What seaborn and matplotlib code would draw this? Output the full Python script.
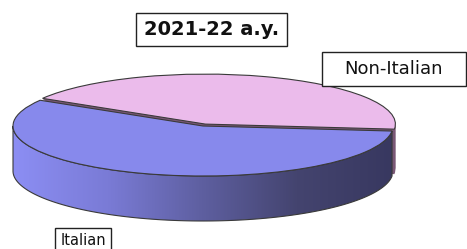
import numpy as np
import matplotlib
matplotlib.use("Agg")
import matplotlib.pyplot as plt
import seaborn as sns
from matplotlib.patches import Rectangle, Polygon
from matplotlib.colors import LinearSegmentedColormap

sns.set_theme(style="white")
plt.rcParams['font.family'] = ['DejaVu Sans']

# ---- data ----
categories = ["Italian", "Non-Italian"]
shares = [57, 43]
title_text = "2021-22 a.y."

W, H = 467, 249
fig = plt.figure(figsize=(W / 100, H / 100), dpi=100)
ax = fig.add_axes([0, 0, 1, 1])

# pixel geometry of the pie ellipse
cx, cy = 203, 126          # centre (pixels from top-left)
rx, ry = 190, 50           # semi-axes in pixels
depth = 45 / ry            # side height in y-units
start = 149
explode = [0, 0.04]

top_colors = ["#8789ec", "#ebbbeb"]
edge = "#3a3a3a"
mauve = "#7a5876"

# pink slice body (extrusion) - stacked layers
N = 30
for k in range(N, 0, -1):
    ax.pie(shares, startangle=start, explode=explode, center=(0, -depth * k / N),
           colors=["none", mauve], wedgeprops=dict(linewidth=0, zorder=1))

# Italian side with horizontal gradient
tot = sum(shares)
a1 = start + 360 * shares[0] / tot
t = np.radians(np.linspace(180, a1, 200))
xs_top = np.cos(t)
ys_top = np.sin(t)
verts = np.concatenate([np.c_[xs_top, ys_top], np.c_[xs_top[::-1], ys_top[::-1] - depth]])
side = Polygon(verts, closed=True, facecolor="none", edgecolor=edge, lw=0.8, zorder=4)
ax.add_patch(side)
cmap = LinearSegmentedColormap.from_list(
    "side", sns.blend_palette(["#8c8ef4", "#7a7bd6", "#5e5fa0", "#44446f", "#383860"], 5))
grad = np.linspace(0, 1, 256)[None, :]
im = ax.imshow(grad, extent=(-1, 1, -1 - depth, 0.2), aspect="auto", cmap=cmap,
               origin="lower", zorder=3)
im.set_clip_path(side)

# top surfaces
ax.pie(shares, startangle=start, explode=explode, colors=top_colors,
       wedgeprops=dict(edgecolor=edge, linewidth=0.8, zorder=5))

ax.set_aspect("auto")
ax.set_xlim(-cx / rx, (W - cx) / rx)
ax.set_ylim(-(H - cy) / ry, cy / ry)
ax.axis("off")


def box(x0, y0, x1, y1, text, bold=False, size=10):
    fig.patches.append(Rectangle((x0 / W, 1 - y1 / H), (x1 - x0) / W, (y1 - y0) / H,
                                 transform=fig.transFigure, facecolor="white",
                                 edgecolor="#222222", lw=1, zorder=10))
    fig.text((x0 + x1) / 2 / W, 1 - (y0 + y1) / 2 / H, text, ha="center", va="center",
             fontsize=size, fontweight="bold" if bold else "normal", color="#111111",
             zorder=11)


box(136, 13, 287, 46, title_text, bold=True, size=14)
box(322, 52, 466, 86, categories[1], size=13)
box(55, 228, 111, 252, categories[0], size=10.5)

fig.savefig("out.png", dpi=100)
